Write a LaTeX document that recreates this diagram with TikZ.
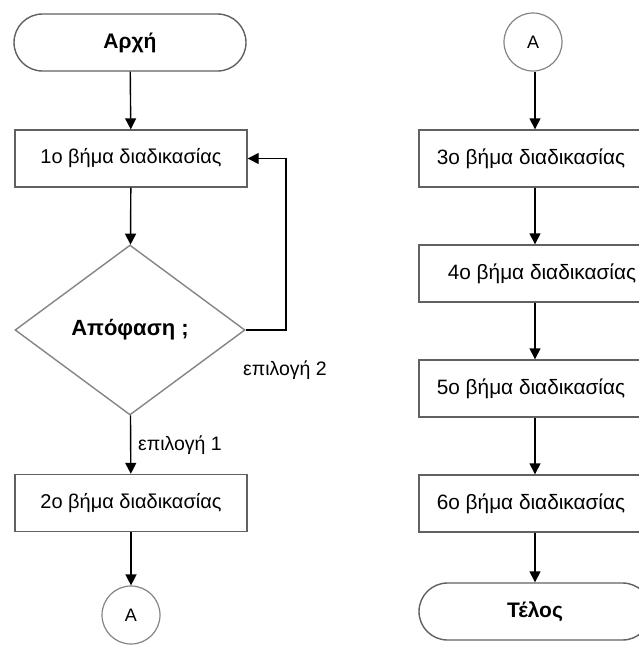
\documentclass[tikz,border=0pt]{standalone}
\usepackage{fontspec}
\setmainfont{Liberation Sans}
\usetikzlibrary{shapes.geometric,shapes.misc,arrows.meta}

\definecolor{edgegray}{gray}{0.38}
\definecolor{lightedge}{gray}{0.52}

\tikzset{
  stepbox/.style={rectangle, draw=edgegray, line width=1.4pt, fill=white,
    minimum width=232pt, minimum height=57pt, inner sep=0pt,
    font=\fontsize{20}{24}\selectfont},
  widestep/.style={stepbox, font=\fontsize{20.8}{24}\selectfont},
  termbox/.style={rounded rectangle, draw=edgegray, line width=1.4pt, fill=white,
    minimum width=232pt, minimum height=57pt, inner sep=0pt,
    font=\bfseries\fontsize{21}{24}\selectfont},
  decision/.style={diamond, draw=lightedge, line width=1.4pt, fill=white,
    minimum width=230pt, minimum height=170pt, inner sep=0pt,
    font=\bfseries\fontsize{22}{26}\selectfont},
  connector/.style={circle, draw=lightedge, line width=1.2pt, fill=white,
    minimum size=58pt, inner sep=0pt, font=\fontsize{18}{21}\selectfont},
  flow/.style={draw=black, line width=1.4pt, -{Triangle[length=11pt,width=11pt]}},
  choice/.style={anchor=west, inner sep=0pt, font=\fontsize{19.5}{23}\selectfont}
}

\begin{document}
\begin{tikzpicture}[x=1pt,y=-1pt]
  \useasboundingbox (0,0) rectangle (639,646);
  \clip (0,0) rectangle (639,646);
  \fill[white] (0,0) rectangle (639,646);

  % left column
  \node[termbox]  (start) at (130,42.5) {Αρχή};
  \node[stepbox]  (s1)    at (131,158.5) {1ο βήμα διαδικασίας};
  \node[decision] (dec)   at (130,330) {Απόφαση ;};
  \node[stepbox]  (s2)    at (131,503) {2ο βήμα διαδικασίας};
  \node[connector] (ca)   at (131,615) {A};
  \coordinate (loop) at (286,330);

  % right column
  \node[connector] (cb)   at (533,42) {A};
  \node[widestep] (s3)    at (535,158.5) {3ο βήμα διαδικασίας\hspace*{8pt}};
  \node[widestep] (s4)    at (535,273.5) {\hspace*{14pt}4ο βήμα διαδικασίας};
  \node[widestep] (s5)    at (535,388.5) {5ο βήμα διαδικασίας\hspace*{8pt}};
  \node[widestep] (s6)    at (535,503.5) {6ο βήμα διαδικασίας\hspace*{8pt}};
  \node[termbox]  (stop)  at (535,611.5) {Τέλος};

  % branch labels
  \node[choice] (opt2) at (243,370) {επιλογή 2};
  \node[choice] (opt1) at (138,445) {επιλογή 1};

  % connectors
  \draw[flow] (start) -- (s1);
  \draw[flow] (s1) -- (dec);
  \draw[flow] (dec) -- (s2);
  \draw[flow] (s2) -- (ca);
  \draw[flow] (dec.east) -- (loop) |- (s1.east);

  \draw[flow] (cb.south -| s3.north) -- (s3.north);
  \draw[flow] (s3) -- (s4);
  \draw[flow] (s4) -- (s5);
  \draw[flow] (s5) -- (s6);
  \draw[flow] (s6) -- (stop);
\end{tikzpicture}
\end{document}
